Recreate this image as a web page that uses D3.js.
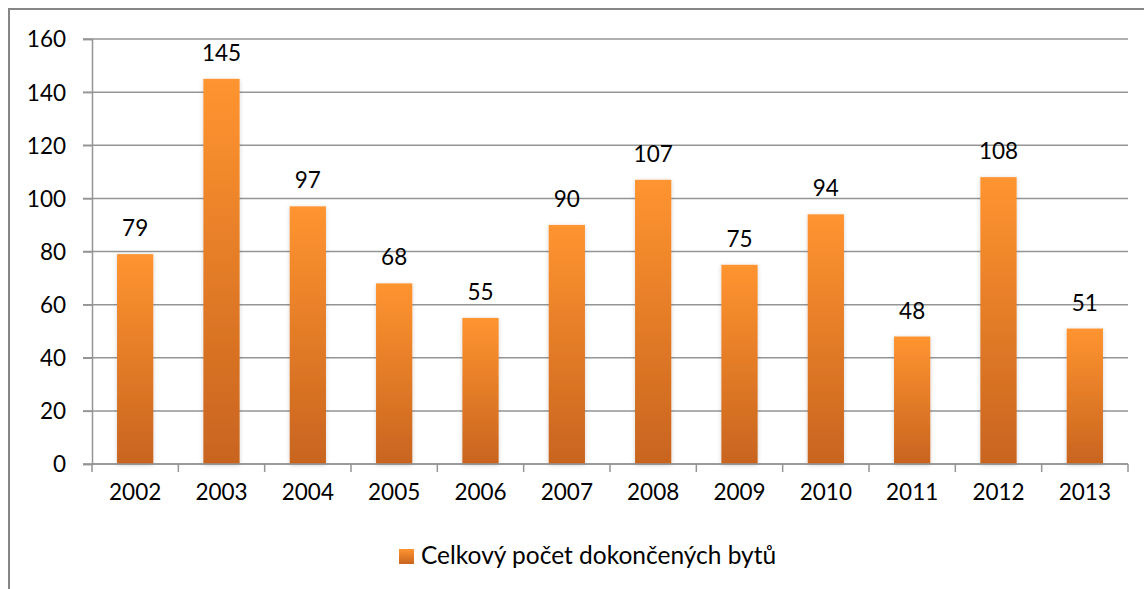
<!DOCTYPE html>
<html>
<head>
<meta charset="utf-8">
<script src="https://cdn.jsdelivr.net/npm/d3@7"></script>
<style>
  html, body { margin: 0; padding: 0; background: #fff; }
  svg text { font-family: Lato, "Open Sans", sans-serif; fill: #000; }
</style>
</head>
<body>
<svg id="chart" width="1144" height="589"></svg>
<script>
const years = ["2002","2003","2004","2005","2006","2007","2008","2009","2010","2011","2012","2013"];
const values = [79, 145, 97, 68, 55, 90, 107, 75, 94, 48, 108, 51];
const yTicks = [0, 20, 40, 60, 80, 100, 120, 140, 160];
const seriesName = "Celkový počet dokončených bytů";

const svg = d3.select("#chart");
const W = 1144, H = 589;
const plot = { left: 92, right: 1128, top: 39, bottom: 464 };

const defs = svg.append("defs");
const grad = defs.append("linearGradient").attr("id", "barGrad")
  .attr("x1", 0).attr("y1", 0).attr("x2", 0).attr("y2", 1);
grad.append("stop").attr("offset", "0%").attr("stop-color", "#FF9430");
grad.append("stop").attr("offset", "100%").attr("stop-color", "#C8641F");
const lgrad = defs.append("linearGradient").attr("id", "legGrad")
  .attr("x1", 0).attr("y1", 0).attr("x2", 0).attr("y2", 1);
lgrad.append("stop").attr("offset", "0%").attr("stop-color", "#FF9430");
lgrad.append("stop").attr("offset", "100%").attr("stop-color", "#C8641F");
const filt = defs.append("filter").attr("id", "shadow")
  .attr("x", "-30%").attr("y", "-10%").attr("width", "160%").attr("height", "120%");
filt.append("feDropShadow").attr("dx", 0).attr("dy", 1).attr("stdDeviation", 2)
  .attr("flood-color", "#000").attr("flood-opacity", 0.18);

// outer border (left and top visible)
svg.append("path")
  .attr("d", `M9,${H+5} L9,9 L${W+5},9`)
  .attr("fill", "none").attr("stroke", "#868686").attr("stroke-width", 2);

const x = d3.scaleBand().domain(years).range([plot.left, plot.right])
  .paddingInner(0.58).paddingOuter(0.29);
const y = d3.scaleLinear().domain([0, 160]).range([plot.bottom, plot.top]);

// gridlines
svg.append("g").selectAll("line").data(yTicks).join("line")
  .attr("x1", plot.left - 9).attr("x2", plot.right)
  .attr("y1", d => y(d)).attr("y2", d => y(d))
  .attr("stroke", "#959595").attr("stroke-width", 1.5);

// y axis
const yAxis = svg.append("g").attr("transform", `translate(${plot.left},0)`)
  .call(d3.axisLeft(y).tickValues(yTicks).tickSize(9).tickPadding(17));
yAxis.select(".domain").attr("stroke", "#959595").attr("stroke-width", 1.5);
yAxis.selectAll(".tick line").attr("stroke", "#959595").attr("stroke-width", 1.5);
yAxis.selectAll("text").attr("font-size", 22.5).attr("font-family", "Lato, sans-serif").attr("dy", "0.35em");

// x axis
const xAxis = svg.append("g").attr("transform", `translate(0,${plot.bottom})`)
  .call(d3.axisBottom(x).tickSize(0).tickPadding(20));
xAxis.select(".domain").remove();
xAxis.selectAll("text").attr("font-size", 22.5).attr("font-family", "Lato, sans-serif");
const step = x.step();
svg.append("g").selectAll("line").data(d3.range(years.length + 1)).join("line")
  .attr("x1", i => plot.left + i * step).attr("x2", i => plot.left + i * step)
  .attr("y1", plot.bottom).attr("y2", plot.bottom + 8)
  .attr("stroke", "#959595").attr("stroke-width", 1.5);

// bars
svg.append("g").selectAll("rect").data(values).join("rect")
  .attr("x", (d, i) => x(years[i]))
  .attr("y", d => y(d))
  .attr("width", x.bandwidth())
  .attr("height", d => y(0) - y(d))
  .attr("fill", "url(#barGrad)")
  .attr("filter", "url(#shadow)");

svg.append("line")
  .attr("x1", plot.left).attr("x2", plot.right)
  .attr("y1", plot.bottom).attr("y2", plot.bottom)
  .attr("stroke", "#959595").attr("stroke-width", 1.5);

// value labels
svg.append("g").selectAll("text").data(values).join("text")
  .attr("x", (d, i) => x(years[i]) + x.bandwidth() / 2)
  .attr("y", d => y(d) - 18)
  .attr("text-anchor", "middle")
  .attr("font-size", 22.5)
  .text(d => d);

// legend
const leg = svg.append("g");
leg.append("rect").attr("x", 399).attr("y", 549).attr("width", 15).attr("height", 15)
  .attr("fill", "url(#legGrad)");
leg.append("text").attr("x", 421).attr("y", 564).attr("font-size", 24.5).text(seriesName);
</script>
</body>
</html>
